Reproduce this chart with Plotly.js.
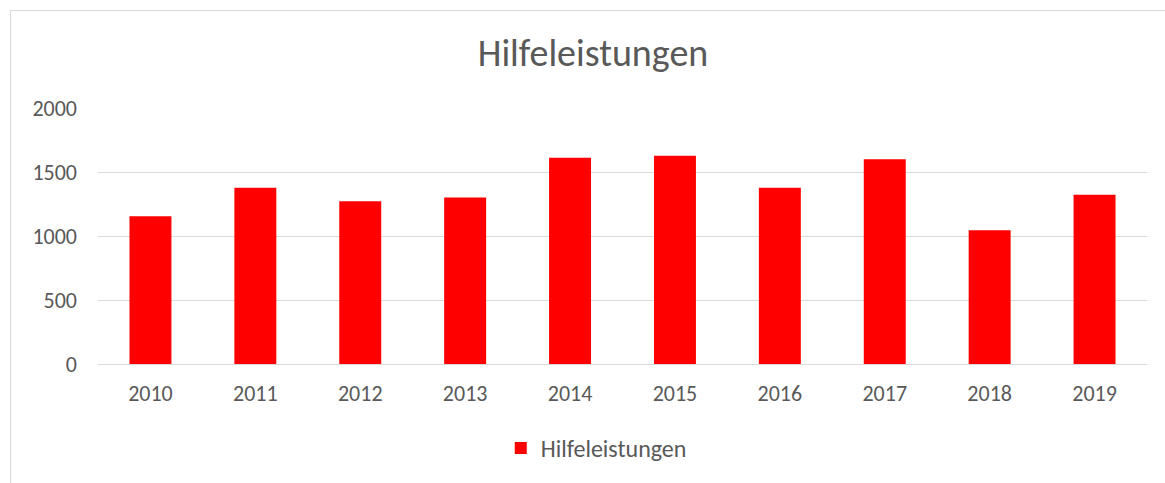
<!DOCTYPE html>
<html>
<head>
<meta charset="utf-8">
<script src="https://cdn.plot.ly/plotly-3.0.1.min.js"></script>
<style>
  html, body { margin: 0; padding: 0; background: #fff; }
  #frame { position: absolute; left: 10px; top: 10px; width: 1165px; height: 483px; border-left: 1px solid #d9d9d9; border-top: 1px solid #d9d9d9; box-sizing: border-box; pointer-events: none; }
  #chart { width: 1165px; height: 483px; }
</style>
</head>
<body>
<div id="chart"></div>
<div id="frame"></div>
<script>
const years = ["2010","2011","2012","2013","2014","2015","2016","2017","2018","2019"];
const hilfeleistungen = [1155, 1377, 1271, 1300, 1612, 1627, 1377, 1599, 1044, 1323];
const yTicks = [0, 500, 1000, 1500, 2000];
const seriesName = "Hilfeleistungen";
const chartTitle = "Hilfeleistungen";

const fontFam = "Carlito, Lato, 'Open Sans', sans-serif";
const grey = "#595959";

Plotly.newPlot("chart", [{
  type: "bar",
  x: years,
  y: hilfeleistungen,
  name: seriesName,
  marker: { color: "#ff0000" },
  showlegend: true
}], {
  width: 1165, height: 483,
  margin: { l: 98, r: 18, t: 108, b: 117 },
  paper_bgcolor: "#ffffff",
  plot_bgcolor: "#ffffff",
  bargap: 0.6,
  title: { text: chartTitle, x: 0.509, xanchor: "center", y: 0.89, yanchor: "middle",
           font: { family: fontFam, size: 38, color: grey, weight: 300 } },
  font: { family: fontFam, size: 22, color: grey },
  xaxis: { type: "category", tickfont: { size: 22, color: grey }, showgrid: false,
           showline: true, linecolor: "#d9d9d9", linewidth: 1, ticks: "", ticklabelstandoff: 10, fixedrange: true },
  yaxis: { range: [0, 2000], tickvals: yTicks, ticktext: yTicks.map(String),
           showgrid: true, gridcolor: "#d9d9d9", gridwidth: 1, zeroline: false,
           showline: false, ticks: "", ticklabelstandoff: 20, tickfont: { size: 22, color: grey }, fixedrange: true },
  legend: { orientation: "h", x: 0.475, xanchor: "center", y: -0.33, yanchor: "middle",
            font: { size: 24, color: grey } }
}, { displayModeBar: false, staticPlot: true });
</script>
</body>
</html>
